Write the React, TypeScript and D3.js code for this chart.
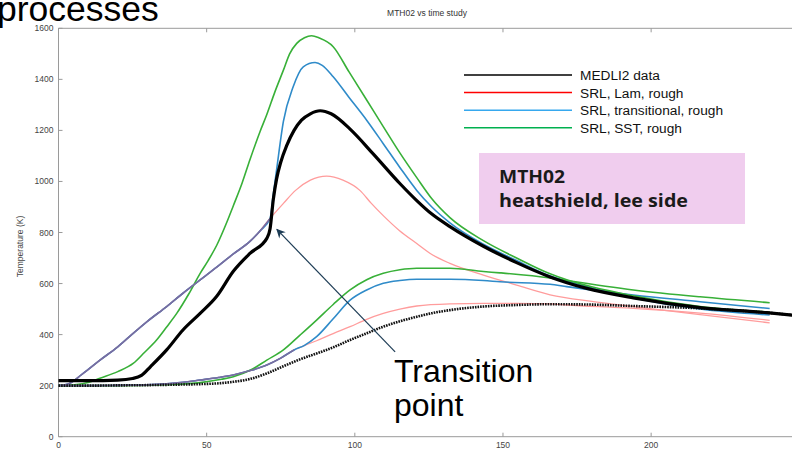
import { useEffect, useRef } from "react";
import * as d3 from "d3";

type Pt = [number, number];

const xTicks = [0, 50, 100, 150, 200];
const yTicks = [0, 200, 400, 600, 800, 1000, 1200, 1400, 1600];

const legendLabels = ["MEDLI2 data", "SRL, Lam, rough", "SRL, transitional, rough", "SRL, SST, rough"];
const legendColors = ["#000000", "#ff0000", "#36a8ee", "#00b04f"];

// MEDLI2 thermocouples: shallow (thick) and deep (dotted)
const medliShallow: Pt[] = [
  [0, 220], [10, 220], [20, 222], [25, 228], [28, 240], [31, 274], [36.5, 340], [42, 418], [47.8, 483],
  [53.4, 550], [59, 648], [64.6, 718], [70.3, 777], [71.4, 815], [72.5, 930], [73.6, 1010], [75, 1075],
  [77, 1140], [79.5, 1200], [82, 1240], [85, 1265], [88.3, 1277], [92, 1265], [98.4, 1205], [106.2, 1108],
  [115.2, 992], [120.9, 925], [126, 872], [132.1, 823], [143.4, 746], [154.6, 682], [165.9, 626],
  [178, 582], [194, 544], [216.5, 506], [239, 486], [250, 474],
];
const medliDeep: Pt[] = [
  [0, 200], [10, 200], [20, 201], [30, 202], [40, 204], [47.8, 206], [55, 210], [59, 215], [64.6, 226],
  [70.3, 248], [75.9, 276], [81.5, 303], [87.1, 326], [92.7, 350], [98.4, 379], [104, 405], [109.6, 431],
  [115.2, 452], [120.9, 470], [126, 484], [132.1, 496], [143.4, 510], [154.6, 516], [165.9, 519],
  [178, 518], [194, 512], [216.5, 503], [239, 486], [250, 474],
];

// Lam and transitional runs coincide before the transition point
const sharedUpper: Pt[] = [
  [0, 200], [3, 205], [8, 245], [14, 300], [20, 352], [25, 403], [30, 452], [36.5, 510], [42, 562],
  [47.8, 614], [53.5, 665], [59, 716], [64.6, 765], [68, 806], [71.4, 855],
];
const lamUpperAfter: Pt[] = [
  [75.9, 914], [80, 965], [85, 1005], [90.5, 1021], [96, 1005], [101.8, 964], [105.5, 915], [109.6, 866],
  [115, 808], [120.9, 757], [126, 714], [132.1, 679], [143.4, 633], [154.6, 594], [165.9, 556],
  [180, 530], [194, 510], [216.5, 478], [240, 446],
];
const transUpperAfter: Pt[] = [
  [72.5, 950], [73.6, 1045], [75.9, 1235], [79.2, 1371], [82.6, 1449], [86.6, 1466], [89, 1455],
  [92.7, 1410], [98, 1330], [104, 1240], [109.6, 1148], [115.2, 1055], [120.9, 965], [126, 900],
  [132.1, 838], [143.4, 754], [154.6, 690], [165.9, 630], [171.5, 610], [194, 544], [216.5, 500], [240, 477],
];
const sharedLower: Pt[] = [
  [0, 200], [10, 200], [20, 201], [30, 203], [36.5, 207], [42, 213], [47.8, 222], [54, 232], [59, 242],
  [65, 260], [70.3, 281], [75, 308], [79.5, 340],
];
const lamLowerAfter: Pt[] = [
  [83, 357], [87.1, 376], [92.7, 404], [98.4, 431], [104, 460], [109.6, 483], [115.2, 500], [120.9, 512],
  [132.1, 520], [143.4, 522], [154.6, 522], [165.9, 520], [171.5, 516], [194, 503], [216.5, 484], [240, 456],
];
const transLowerAfter: Pt[] = [
  [83, 358], [87.1, 392], [92.7, 462], [98.4, 535], [104, 575], [109.6, 601], [115.2, 612], [120.9, 617],
  [132.1, 617], [143.4, 612], [149, 607], [165.9, 597], [171.5, 588], [194, 555], [216.5, 529], [240, 502],
];

// SST runs
const sstUpper: Pt[] = [
  [0, 200], [5, 203], [10, 212], [14, 229], [20, 255], [25.2, 287], [29, 330], [33.1, 379], [36.5, 430],
  [39.9, 483], [44, 560], [47.8, 640], [50.5, 690], [53.4, 750], [56.8, 840], [59, 905], [62, 995],
  [64.6, 1085], [68, 1195], [70.3, 1262], [73, 1350], [75.9, 1436], [78, 1500], [80.4, 1541], [83, 1563],
  [85.4, 1571], [88, 1562], [92.7, 1528], [98, 1430], [104, 1319], [109.6, 1215], [115.2, 1112],
  [120.9, 1015], [126, 932], [132.1, 858], [143.4, 768], [154.6, 700], [165.9, 638], [171.5, 615],
  [194, 552], [216.5, 510], [240, 488],
];
const sstLower: Pt[] = [
  [0, 200], [20, 200], [36.5, 204], [47.8, 212], [55, 225], [59, 235], [65, 262], [70.3, 300],
  [75.9, 340], [81.5, 398], [87.1, 457], [92.7, 518], [98.4, 575], [104, 615], [109.6, 640], [115.2, 654],
  [120.9, 660], [132.1, 660], [143.4, 647], [149, 642], [165.9, 622], [171.5, 612], [194, 575],
  [216.5, 548], [240, 525],
];

const W = 792, H = 450;

export default function App() {
  const svgRef = useRef<SVGSVGElement | null>(null);

  useEffect(() => {
    const svg = d3.select(svgRef.current);
    svg.selectAll("*").remove();

    const x = d3.scaleLinear().domain([0, 250]).range([58.5, 799.3]);
    const y = d3.scaleLinear().domain([0, 1600]).range([436.7, 28.3]);
    const font = "'Liberation Sans', Arial, sans-serif";

    svg.append("rect").attr("width", W).attr("height", H).attr("fill", "#fff");

    const defs = svg.append("defs");
    defs.append("marker").attr("id", "arrowHead").attr("viewBox", "0 0 10 10")
      .attr("refX", 9).attr("refY", 5).attr("markerWidth", 10).attr("markerHeight", 9)
      .attr("markerUnits", "userSpaceOnUse").attr("orient", "auto")
      .append("path").attr("d", "M0,0 L10,5 L0,10 L3,5 Z").attr("fill", "#1d3c55");

    // axes box
    const axisColor = "#9a9a9a";
    svg.append("line").attr("x1", x(0)).attr("x2", W).attr("y1", y(0)).attr("y2", y(0)).attr("stroke", axisColor);
    svg.append("line").attr("x1", x(0)).attr("x2", W).attr("y1", y(1600)).attr("y2", y(1600)).attr("stroke", axisColor);
    svg.append("line").attr("x1", x(0)).attr("x2", x(0)).attr("y1", y(0)).attr("y2", y(1600)).attr("stroke", axisColor);

    xTicks.forEach(t => {
      svg.append("line").attr("x1", x(t)).attr("x2", x(t)).attr("y1", y(0)).attr("y2", y(0) - 4).attr("stroke", axisColor);
      svg.append("line").attr("x1", x(t)).attr("x2", x(t)).attr("y1", y(1600)).attr("y2", y(1600) + 4).attr("stroke", axisColor);
      svg.append("text").attr("x", x(t)).attr("y", y(0) + 11).attr("text-anchor", "middle")
        .style("font-family", font).style("font-size", "8.5px").attr("fill", "#444").text(t);
    });
    yTicks.forEach(t => {
      svg.append("line").attr("x1", x(0)).attr("x2", x(0) + 4).attr("y1", y(t)).attr("y2", y(t)).attr("stroke", axisColor);
      svg.append("text").attr("x", x(0) - 5).attr("y", y(t) + 3).attr("text-anchor", "end")
        .style("font-family", font).style("font-size", "8.5px").attr("fill", "#444").text(t);
    });

    svg.append("text").attr("transform", `translate(23,${(y(0) + y(1600)) / 2 + 14}) rotate(-90)`)
      .attr("text-anchor", "middle").style("font-family", font).style("font-size", "8.5px")
      .attr("fill", "#444").text("Temperature (K)");

    svg.append("text").attr("x", 427).attr("y", 16).attr("text-anchor", "middle")
      .style("font-family", font).style("font-size", "8.5px").attr("fill", "#333").text("MTH02 vs time study");

    const line = d3.line<Pt>().x(d => x(d[0])).y(d => y(d[1])).curve(d3.curveMonotoneX);
    const draw = (data: Pt[], color: string, width: number, dash?: string) => {
      const p = svg.append("path").attr("d", line(data)).attr("fill", "none")
        .attr("stroke", color).attr("stroke-width", width).attr("stroke-linejoin", "round");
      if (dash) p.attr("stroke-dasharray", dash);
    };

    const pink = "#ff9c9c", blue = "#2f8bc9", green = "#38b038", purple = "#7a6ca0";
    draw([...sharedUpper, ...lamUpperAfter], pink, 1.3);
    draw([...sharedLower, ...lamLowerAfter], pink, 1.3);
    draw([...sharedUpper, ...transUpperAfter], blue, 1.6);
    draw([...sharedLower, ...transLowerAfter], blue, 1.6);
    draw(sstLower, green, 1.6);
    draw(sstUpper, green, 1.6);
    draw(sharedUpper, purple, 1.6);
    draw(sharedLower, purple, 1.6);
    draw(medliDeep, "#111", 2.6, "1.6 1");
    draw(medliShallow, "#000", 3.2);

    // legend
    legendLabels.forEach((lab, i) => {
      const ly = 75 + i * 17.6;
      svg.append("line").attr("x1", 464).attr("x2", 572).attr("y1", ly).attr("y2", ly)
        .attr("stroke", legendColors[i]).attr("stroke-width", i === 0 ? 1.7 : 1.5);
      svg.append("text").attr("x", 580).attr("y", ly + 5).style("font-family", font)
        .style("font-size", "13.7px").attr("fill", "#111").text(lab);
    });

    // label box
    svg.append("rect").attr("x", 479).attr("y", 153).attr("width", 266).attr("height", 71).attr("fill", "#f0cdee");
    svg.append("text").attr("x", 499).attr("y", 183).attr("textLength", 66).attr("lengthAdjust", "spacingAndGlyphs")
      .style("font-family", "'Open Sans', sans-serif").style("font-weight", "700").style("font-size", "17px")
      .attr("fill", "#1a1a1a").text("MTH02");
    svg.append("text").attr("x", 499).attr("y", 207).attr("textLength", 189).attr("lengthAdjust", "spacingAndGlyphs")
      .style("font-family", "'Open Sans', sans-serif").style("font-weight", "700").style("font-size", "17px")
      .attr("fill", "#1a1a1a").text("heatshield, lee side");

    // transition annotation
    svg.append("line").attr("x1", x(113.6)).attr("y1", y(332)).attr("x2", x(73.7)).attr("y2", y(812))
      .attr("stroke", "#1d3c55").attr("stroke-width", 1.2).attr("marker-end", "url(#arrowHead)");
    svg.append("text").attr("x", 394).attr("y", 382).style("font-family", font).style("font-size", "32px")
      .attr("fill", "#000").text("Transition");
    svg.append("text").attr("x", 394).attr("y", 416).style("font-family", font).style("font-size", "32px")
      .attr("fill", "#000").text("point");

    svg.append("text").attr("x", -3).attr("y", 21).style("font-family", font).style("font-size", "35.5px")
      .attr("fill", "#000").text("processes");
  }, []);

  return (
    <svg ref={svgRef} width={W} height={H}
      style={{ position: "absolute", left: 0, top: 0, display: "block" }} />
  );
}
